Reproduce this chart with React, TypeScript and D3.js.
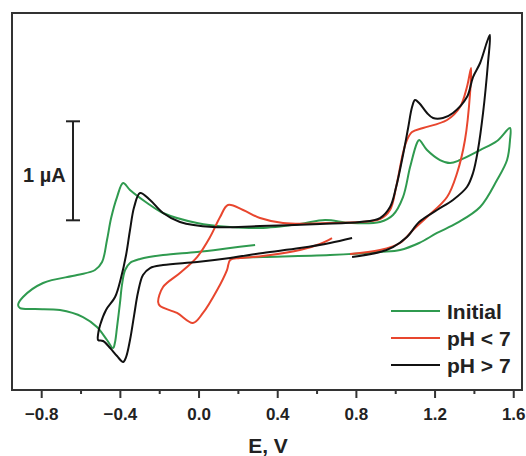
import { useEffect, useRef } from "react";
import * as d3 from "d3";

// potential (V) and current (uA)
const initialCurve: [number, number][] = [
  [0.285, 0.051], [0.158, 0.02], [-0.01, -0.02], [-0.183, -0.051], [-0.3, -0.091],
  [-0.351, -0.131], [-0.376, -0.202], [-0.392, -0.354], [-0.402, -0.535], [-0.417, -0.778],
  [-0.427, -0.929], [-0.437, -0.99], [-0.468, -0.909], [-0.519, -0.778], [-0.59, -0.677],
  [-0.707, -0.606], [-0.834, -0.596], [-0.91, -0.586], [-0.92, -0.556], [-0.895, -0.475],
  [-0.793, -0.333], [-0.62, -0.253], [-0.529, -0.202], [-0.493, -0.121], [-0.468, 0.101],
  [-0.447, 0.323], [-0.417, 0.535], [-0.386, 0.677], [-0.351, 0.606], [-0.264, 0.475],
  [-0.183, 0.374], [-0.01, 0.273], [0.158, 0.232], [0.31, 0.222], [0.513, 0.263],
  [0.641, 0.303], [0.768, 0.273], [0.92, 0.283], [0.986, 0.354], [1.037, 0.535],
  [1.073, 0.838], [1.108, 1.081], [1.119, 1.111], [1.159, 1.01], [1.225, 0.909],
  [1.276, 0.879], [1.327, 0.909], [1.429, 1.01], [1.515, 1.101], [1.581, 1.232],
  [1.581, 1.111], [1.566, 0.909], [1.515, 0.707], [1.429, 0.434], [1.312, 0.273],
  [1.21, 0.172], [1.119, 0.071], [1.022, 0], [0.92, -0.02], [0.666, -0.051],
  [0.325, -0.071], [0.158, -0.081],
];

const acidCurve: [number, number][] = [
  [0.676, 0.121], [0.615, 0.061], [0.513, 0], [0.325, -0.061], [0.208, -0.081],
  [0.158, -0.101], [0.142, -0.202], [0.092, -0.404], [0.02, -0.636], [-0.031, -0.737],
  [-0.112, -0.636], [-0.198, -0.566], [-0.208, -0.525], [-0.183, -0.374], [-0.097, -0.232],
  [-0.01, -0.071], [0.056, 0.131], [0.107, 0.333], [0.147, 0.455], [0.224, 0.404],
  [0.31, 0.323], [0.427, 0.273], [0.666, 0.273], [0.92, 0.313], [0.971, 0.404],
  [1.002, 0.636], [1.037, 0.98], [1.057, 1.111], [1.083, 1.192], [1.139, 1.232],
  [1.261, 1.313], [1.327, 1.444], [1.362, 1.646], [1.383, 1.838], [1.378, 1.586],
  [1.352, 1.111], [1.312, 0.778], [1.261, 0.535], [1.159, 0.333], [1.088, 0.202],
  [1.022, 0.071], [0.92, 0], [0.768, -0.04],
];

const baseCurve: [number, number][] = [
  [0.778, 0.121], [0.666, 0.071], [0.513, 0.02], [0.325, -0.03], [0.158, -0.081],
  [-0.01, -0.121], [-0.183, -0.152], [-0.249, -0.182], [-0.285, -0.253], [-0.31, -0.424],
  [-0.33, -0.657], [-0.351, -0.909], [-0.371, -1.081], [-0.386, -1.131], [-0.417, -1.071],
  [-0.452, -0.99], [-0.488, -0.919], [-0.513, -0.909], [-0.513, -0.848], [-0.503, -0.758],
  [-0.473, -0.606], [-0.427, -0.475], [-0.397, -0.283], [-0.371, -0.051], [-0.351, 0.202],
  [-0.33, 0.434], [-0.3, 0.576], [-0.249, 0.505], [-0.183, 0.374], [-0.097, 0.283],
  [0.071, 0.232], [0.31, 0.242], [0.615, 0.263], [0.818, 0.283], [0.92, 0.323],
  [0.971, 0.434], [1.002, 0.636], [1.037, 0.96], [1.063, 1.232], [1.083, 1.444],
  [1.098, 1.515], [1.119, 1.485], [1.159, 1.384], [1.19, 1.333], [1.24, 1.333],
  [1.291, 1.384], [1.362, 1.545], [1.393, 1.747], [1.429, 1.889], [1.464, 2.101],
  [1.479, 2.172], [1.469, 1.889], [1.444, 1.384], [1.418, 1.01], [1.393, 0.778],
  [1.362, 0.636], [1.291, 0.505], [1.21, 0.404], [1.119, 0.283], [1.057, 0.131],
  [0.986, 0.03], [0.92, -0.02], [0.778, -0.071],
];

const seriesNames = ["Initial", "pH < 7", "pH > 7"];
const seriesColors = ["#2f9a4f", "#e8462e", "#111111"];
const majorTicks = [-0.8, -0.4, 0.0, 0.4, 0.8, 1.2, 1.6];
const minorTicks = [-0.6, -0.2, 0.2, 0.6, 1.0, 1.4];

function App() {
  const ref = useRef<SVGSVGElement | null>(null);

  useEffect(() => {
    const svg = d3.select(ref.current);
    svg.selectAll("*").remove();

    const left = 12, right = 522, top = 13, bottom = 390;
    const x = d3.scaleLinear().domain([-0.951, 1.642]).range([left, right]);
    const y = d3.scaleLinear().domain([-1.414, 2.394]).range([bottom, top]);
    const font = "'Liberation Sans', Arial, sans-serif";

    svg.append("rect").attr("width", 526).attr("height", 456).attr("fill", "#ffffff");

    // curves
    const line = d3
      .line<[number, number]>()
      .x((d) => x(d[0]))
      .y((d) => y(d[1]))
      .curve(d3.curveCatmullRom.alpha(0.5));

    [initialCurve, acidCurve, baseCurve].forEach((c, i) => {
      svg
        .append("path")
        .datum(c)
        .attr("fill", "none")
        .attr("stroke", seriesColors[i])
        .attr("stroke-width", 2)
        .attr("stroke-linejoin", "round")
        .attr("d", line);
    });

    // frame
    svg
      .append("rect")
      .attr("x", left)
      .attr("y", top)
      .attr("width", right - left)
      .attr("height", bottom - top)
      .attr("fill", "none")
      .attr("stroke", "#333")
      .attr("stroke-width", 2);

    // x axis ticks
    svg
      .selectAll("line.major")
      .data(majorTicks)
      .enter()
      .append("line")
      .attr("x1", (d) => x(d))
      .attr("x2", (d) => x(d))
      .attr("y1", bottom)
      .attr("y2", bottom + 8)
      .attr("stroke", "#333")
      .attr("stroke-width", 2);

    svg
      .selectAll("line.minor")
      .data(minorTicks)
      .enter()
      .append("line")
      .attr("x1", (d) => x(d))
      .attr("x2", (d) => x(d))
      .attr("y1", bottom)
      .attr("y2", bottom + 4)
      .attr("stroke", "#333")
      .attr("stroke-width", 2);

    svg
      .selectAll("text.tick")
      .data(majorTicks)
      .enter()
      .append("text")
      .attr("x", (d) => x(d))
      .attr("y", 420)
      .attr("text-anchor", "middle")
      .attr("font-family", font)
      .attr("font-weight", "bold")
      .attr("font-size", 17)
      .attr("fill", "#222")
      .text((d) => d3.format(".1f")(d));

    svg
      .append("text")
      .attr("x", 268)
      .attr("y", 453)
      .attr("text-anchor", "middle")
      .attr("font-family", font)
      .attr("font-weight", "bold")
      .attr("font-size", 21)
      .attr("fill", "#222")
      .text("E, V");

    // 1 uA scale bar
    const barX = 73;
    svg
      .append("line")
      .attr("x1", barX)
      .attr("x2", barX)
      .attr("y1", y(1.3))
      .attr("y2", y(0.3))
      .attr("stroke", "#222")
      .attr("stroke-width", 2);
    [1.3, 0.3].forEach((v) => {
      svg
        .append("line")
        .attr("x1", barX - 7)
        .attr("x2", barX + 7)
        .attr("y1", y(v))
        .attr("y2", y(v))
        .attr("stroke", "#222")
        .attr("stroke-width", 2);
    });
    svg
      .append("text")
      .attr("x", 23)
      .attr("y", 182)
      .attr("font-family", font)
      .attr("font-weight", "bold")
      .attr("font-size", 20)
      .attr("fill", "#222")
      .text("1 \u00b5A");

    // legend
    seriesNames.forEach((name, i) => {
      const ly = 311 + i * 27;
      svg
        .append("line")
        .attr("x1", 391)
        .attr("x2", 440)
        .attr("y1", ly)
        .attr("y2", ly)
        .attr("stroke", seriesColors[i])
        .attr("stroke-width", 2);
      svg
        .append("text")
        .attr("x", 447)
        .attr("y", ly + 7.5)
        .attr("font-family", font)
        .attr("font-weight", "bold")
        .attr("font-size", 21)
        .attr("fill", "#222")
        .text(name);
    });
  }, []);

  return (
    <svg
      ref={ref}
      width={526}
      height={456}
      style={{ position: "absolute", left: 0, top: 0 }}
    />
  );
}

export default App;
